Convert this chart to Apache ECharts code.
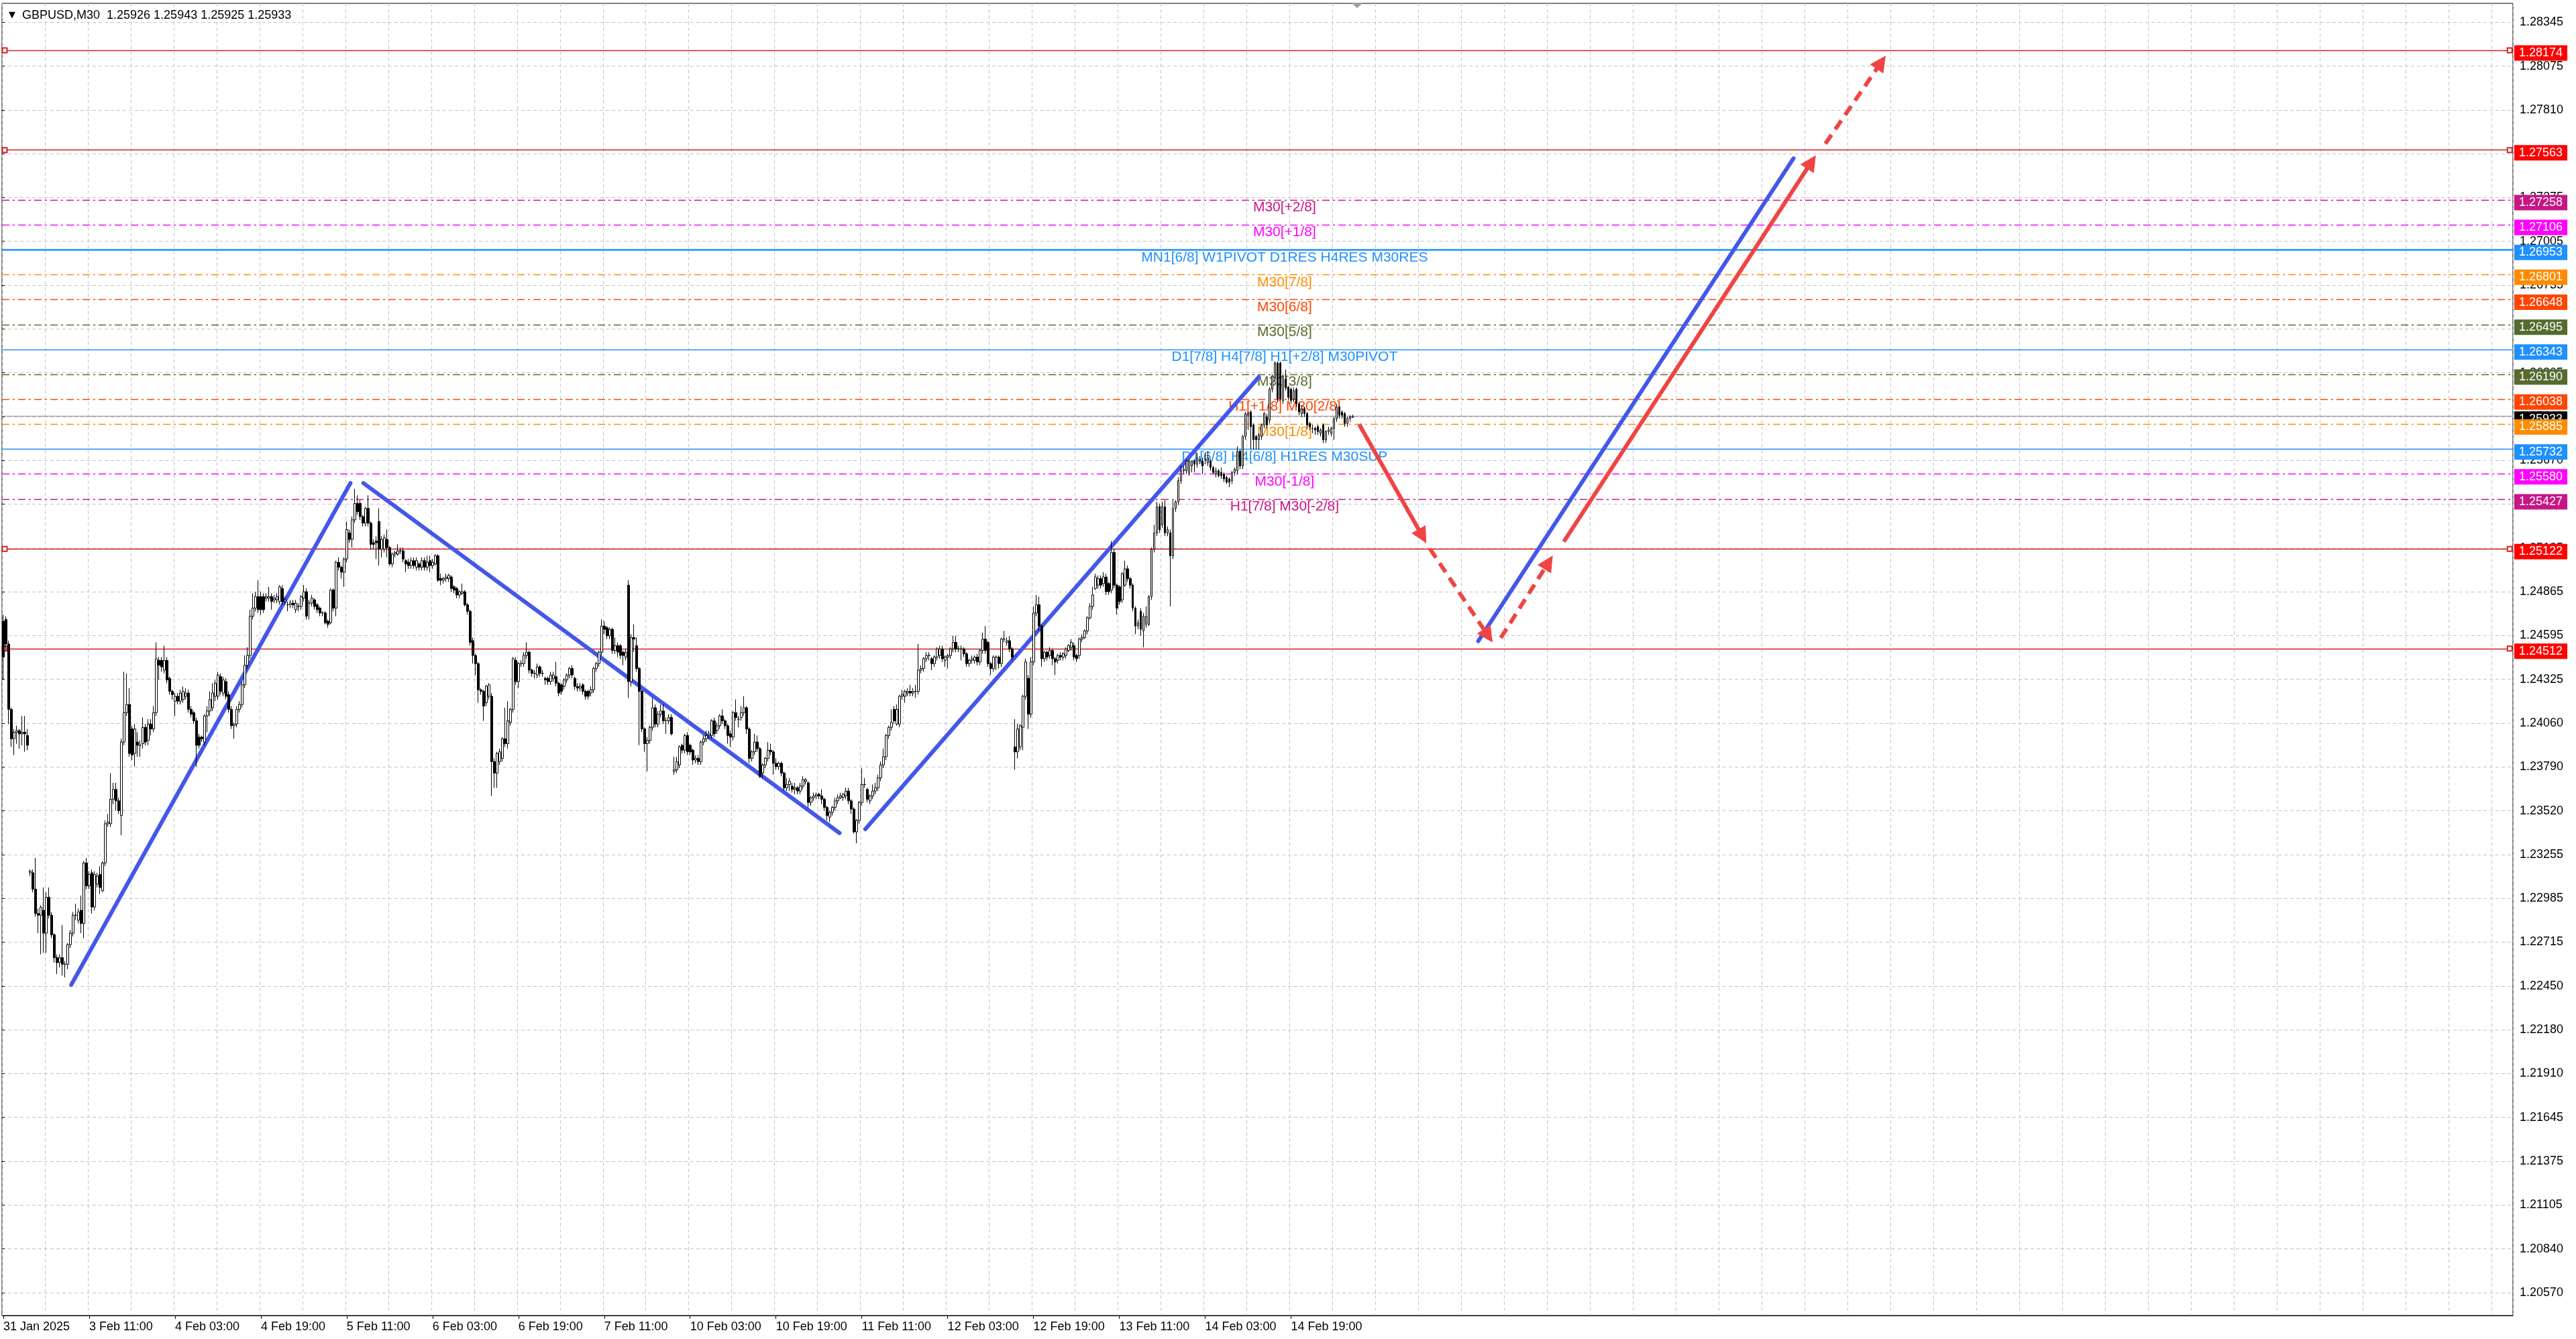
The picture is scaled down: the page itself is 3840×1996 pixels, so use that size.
<!DOCTYPE html>
<html><head><meta charset="utf-8">
<script src="https://cdn.jsdelivr.net/npm/echarts@6/dist/echarts.min.js"></script>
<style>html,body{margin:0;padding:0;background:#fff}#c{width:3840px;height:1996px}</style>
</head><body><div id="c"></div><script>
// ---------- DATA ----------
// each bar: [open, close, low, high]
const seg31Jan = [[1.2468,1.2446,1.2432,1.2472],[1.2469,1.2454,1.2450,1.2471],[1.2454,1.2414,1.2405,1.2456],[1.2414,1.2396,1.2391,1.2415],[1.2396,1.2400,1.2386,1.2402],[1.2400,1.2401,1.2393,1.2404],[1.2401,1.2399,1.2390,1.2402],[1.2399,1.2400,1.2392,1.2410],[1.2400,1.2399,1.2388,1.2410],[1.2398,1.2392,1.2389,1.2402]];
const seg03Feb = [[1.2314,1.2315,1.2312,1.2316],[1.2314,1.2304,1.2302,1.2316],[1.2304,1.2289,1.2287,1.2323],[1.2289,1.2288,1.2277,1.2292],[1.2288,1.2293,1.2264,1.2294],[1.2291,1.2277,1.2265,1.2305],[1.2277,1.2299,1.2265,1.2302],[1.2299,1.2288,1.2286,1.2305],[1.2288,1.2276,1.2274,1.2290],[1.2276,1.2262,1.2259,1.2277],[1.2262,1.2259,1.2252,1.2264],[1.2259,1.2262,1.2256,1.2264],[1.2262,1.2258,1.2251,1.2282],[1.2258,1.2258,1.2250,1.2260],[1.2258,1.2270,1.2255,1.2271],[1.2270,1.2277,1.2268,1.2279],[1.2277,1.2288,1.2275,1.2290],[1.2288,1.2288,1.2285,1.2295],[1.2285,1.2290,1.2283,1.2292],[1.2291,1.2283,1.2277,1.2300],[1.2283,1.2320,1.2274,1.2321],[1.2320,1.2306,1.2304,1.2323],[1.2306,1.2313,1.2304,1.2315],[1.2314,1.2293,1.2289,1.2316],[1.2293,1.2313,1.2291,1.2315],[1.2307,1.2312,1.2305,1.2314],[1.2313,1.2305,1.2301,1.2318],[1.2303,1.2320,1.2302,1.2321],[1.2320,1.2344,1.2318,1.2346],[1.2344,1.2345,1.2342,1.2350],[1.2344,1.2359,1.2342,1.2375],[1.2359,1.2365,1.2356,1.2369],[1.2365,1.2358,1.2352,1.2369],[1.2358,1.2352,1.2350,1.2360],[1.2349,1.2394,1.2337,1.2396],[1.2394,1.2412,1.2392,1.2437],[1.2412,1.2417,1.2410,1.2436],[1.2417,1.2387,1.2385,1.2427],[1.2402,1.2386,1.2383,1.2404],[1.2387,1.2402,1.2379,1.2405],[1.2394,1.2392,1.2385,1.2400],[1.2392,1.2392,1.2385,1.2395],[1.2393,1.2403,1.2390,1.2409],[1.2403,1.2394,1.2392,1.2405],[1.2395,1.2405,1.2392,1.2408],[1.2405,1.2402,1.2398,1.2408],[1.2402,1.2412,1.2400,1.2416],[1.2412,1.2445,1.2410,1.2455]];
const seg04Feb = [[1.2444,1.2441,1.2432,1.2446],[1.2444,1.2440,1.2437,1.2446],[1.2438,1.2444,1.2436,1.2453],[1.2444,1.2432,1.2430,1.2446],[1.2433,1.2425,1.2423,1.2434],[1.2425,1.2423,1.2420,1.2426],[1.2419,1.2422,1.2410,1.2424],[1.2422,1.2419,1.2417,1.2424],[1.2419,1.2424,1.2417,1.2426],[1.2420,1.2425,1.2418,1.2428],[1.2422,1.2424,1.2420,1.2427],[1.2424,1.2414,1.2412,1.2426],[1.2414,1.2411,1.2409,1.2416],[1.2412,1.2407,1.2405,1.2413],[1.2407,1.2392,1.2379,1.2409],[1.2397,1.2392,1.2390,1.2399],[1.2397,1.2396,1.2394,1.2398],[1.2394,1.2410,1.2392,1.2411],[1.2410,1.2413,1.2400,1.2416],[1.2413,1.2420,1.2410,1.2425],[1.2415,1.2424,1.2413,1.2430],[1.2422,1.2430,1.2419,1.2432],[1.2422,1.2435,1.2420,1.2437],[1.2434,1.2425,1.2423,1.2436],[1.2424,1.2432,1.2422,1.2434],[1.2431,1.2422,1.2420,1.2433],[1.2423,1.2414,1.2412,1.2425],[1.2414,1.2404,1.2402,1.2416],[1.2404,1.2405,1.2396,1.2406],[1.2405,1.2414,1.2403,1.2416],[1.2414,1.2417,1.2412,1.2419],[1.2417,1.2429,1.2415,1.2431],[1.2429,1.2441,1.2427,1.2447],[1.2441,1.2447,1.2439,1.2452],[1.2447,1.2471,1.2445,1.2475],[1.2471,1.2476,1.2469,1.2485],[1.2476,1.2483,1.2474,1.2486],[1.2483,1.2475,1.2473,1.2493],[1.2483,1.2475,1.2472,1.2486],[1.2483,1.2475,1.2473,1.2485],[1.2482,1.2483,1.2480,1.2485],[1.2482,1.2483,1.2480,1.2489],[1.2483,1.2480,1.2475,1.2485],[1.2481,1.2482,1.2479,1.2484],[1.2481,1.2483,1.2479,1.2485],[1.2480,1.2489,1.2478,1.2490],[1.2488,1.2480,1.2478,1.2490],[1.2480,1.2481,1.2478,1.2483]];
const seg05Feb = [[1.2478,1.2478,1.2474,1.2480],[1.2478,1.2479,1.2476,1.2481],[1.2479,1.2478,1.2476,1.2481],[1.2475,1.2479,1.2473,1.2481],[1.2477,1.2477,1.2474,1.2479],[1.2477,1.2483,1.2475,1.2484],[1.2482,1.2486,1.2480,1.2490],[1.2486,1.2471,1.2469,1.2488],[1.2479,1.2479,1.2469,1.2481],[1.2479,1.2482,1.2477,1.2484],[1.2481,1.2477,1.2475,1.2482],[1.2478,1.2475,1.2473,1.2479],[1.2476,1.2473,1.2471,1.2477],[1.2473,1.2473,1.2471,1.2474],[1.2473,1.2467,1.2466,1.2474],[1.2468,1.2466,1.2464,1.2469],[1.2467,1.2487,1.2466,1.2488],[1.2487,1.2476,1.2474,1.2488],[1.2476,1.2504,1.2471,1.2505],[1.2504,1.2501,1.2499,1.2507],[1.2501,1.2498,1.2494,1.2502],[1.2498,1.2506,1.2489,1.2507],[1.2506,1.2524,1.2504,1.2529],[1.2522,1.2518,1.2516,1.2524],[1.2518,1.2530,1.2513,1.2532],[1.2530,1.2540,1.2528,1.2549],[1.2540,1.2535,1.2533,1.2545],[1.2540,1.2532,1.2530,1.2542],[1.2532,1.2528,1.2526,1.2533],[1.2528,1.2537,1.2526,1.2538],[1.2537,1.2528,1.2526,1.2545],[1.2528,1.2515,1.2512,1.2529],[1.2516,1.2515,1.2512,1.2518],[1.2517,1.2516,1.2506,1.2520],[1.2529,1.2512,1.2502,1.2537],[1.2512,1.2518,1.2507,1.2520],[1.2512,1.2519,1.2510,1.2521],[1.2518,1.2513,1.2507,1.2524],[1.2513,1.2503,1.2502,1.2514],[1.2503,1.2509,1.2501,1.2510],[1.2509,1.2510,1.2507,1.2511],[1.2509,1.2511,1.2508,1.2515],[1.2511,1.2511,1.2509,1.2513],[1.2511,1.2506,1.2504,1.2513],[1.2505,1.2503,1.2498,1.2506],[1.2504,1.2502,1.2500,1.2506],[1.2502,1.2505,1.2500,1.2507],[1.2505,1.2502,1.2500,1.2507]];
const seg06Feb = [[1.2501,1.2505,1.2499,1.2507],[1.2503,1.2501,1.2499,1.2504],[1.2501,1.2505,1.2499,1.2507],[1.2505,1.2501,1.2499,1.2507],[1.2501,1.2504,1.2499,1.2508],[1.2505,1.2502,1.2498,1.2508],[1.2502,1.2504,1.2500,1.2506],[1.2503,1.2508,1.2502,1.2509],[1.2508,1.2493,1.2492,1.2509],[1.2494,1.2493,1.2490,1.2497],[1.2493,1.2494,1.2491,1.2495],[1.2494,1.2495,1.2492,1.2497],[1.2494,1.2496,1.2492,1.2497],[1.2495,1.2488,1.2486,1.2496],[1.2489,1.2487,1.2485,1.2490],[1.2488,1.2484,1.2482,1.2489],[1.2484,1.2486,1.2482,1.2487],[1.2485,1.2486,1.2484,1.2491],[1.2486,1.2478,1.2477,1.2487],[1.2478,1.2474,1.2472,1.2479],[1.2474,1.2455,1.2453,1.2475],[1.2456,1.2447,1.2442,1.2458],[1.2447,1.2442,1.2435,1.2448],[1.2442,1.2426,1.2418,1.2443],[1.2426,1.2425,1.2423,1.2427],[1.2425,1.2416,1.2407,1.2426],[1.2418,1.2428,1.2416,1.2429],[1.2422,1.2429,1.2420,1.2430],[1.2422,1.2382,1.2361,1.2424],[1.2382,1.2375,1.2366,1.2384],[1.2375,1.2387,1.2366,1.2388],[1.2382,1.2388,1.2380,1.2390],[1.2384,1.2396,1.2382,1.2397],[1.2396,1.2393,1.2391,1.2415],[1.2393,1.2407,1.2390,1.2419],[1.2406,1.2414,1.2404,1.2415],[1.2414,1.2445,1.2412,1.2446],[1.2444,1.2431,1.2429,1.2446],[1.2431,1.2442,1.2427,1.2443],[1.2442,1.2442,1.2440,1.2444],[1.2442,1.2447,1.2440,1.2449],[1.2447,1.2449,1.2445,1.2455],[1.2449,1.2438,1.2436,1.2450],[1.2438,1.2436,1.2434,1.2439],[1.2436,1.2436,1.2433,1.2438],[1.2435,1.2440,1.2433,1.2442],[1.2440,1.2436,1.2434,1.2441],[1.2436,1.2436,1.2434,1.2438]];
const seg07Feb = [[1.2433,1.2432,1.2429,1.2434],[1.2433,1.2431,1.2429,1.2434],[1.2431,1.2435,1.2429,1.2437],[1.2433,1.2435,1.2431,1.2437],[1.2434,1.2430,1.2428,1.2443],[1.2430,1.2424,1.2422,1.2431],[1.2429,1.2425,1.2423,1.2430],[1.2428,1.2432,1.2426,1.2433],[1.2432,1.2435,1.2430,1.2436],[1.2435,1.2439,1.2433,1.2440],[1.2439,1.2435,1.2433,1.2441],[1.2433,1.2428,1.2426,1.2434],[1.2428,1.2427,1.2425,1.2430],[1.2427,1.2428,1.2425,1.2430],[1.2429,1.2425,1.2423,1.2430],[1.2425,1.2422,1.2420,1.2426],[1.2425,1.2422,1.2420,1.2426],[1.2424,1.2426,1.2422,1.2428],[1.2426,1.2439,1.2424,1.2440],[1.2439,1.2442,1.2437,1.2443],[1.2442,1.2449,1.2440,1.2450],[1.2449,1.2465,1.2447,1.2469],[1.2465,1.2463,1.2460,1.2468],[1.2464,1.2459,1.2457,1.2465],[1.2459,1.2463,1.2457,1.2464],[1.2463,1.2450,1.2448,1.2464],[1.2450,1.2453,1.2448,1.2458],[1.2453,1.2449,1.2446,1.2455],[1.2453,1.2447,1.2445,1.2454],[1.2449,1.2447,1.2441,1.2450],[1.2446,1.2449,1.2444,1.2451],[1.2490,1.2431,1.2421,1.2493],[1.2431,1.2458,1.2428,1.2460],[1.2458,1.2457,1.2449,1.2466],[1.2453,1.2439,1.2437,1.2458],[1.2439,1.2425,1.2392,1.2440],[1.2425,1.2402,1.2400,1.2426],[1.2402,1.2393,1.2388,1.2403],[1.2393,1.2395,1.2376,1.2397],[1.2395,1.2403,1.2393,1.2404],[1.2403,1.2415,1.2401,1.2421],[1.2415,1.2405,1.2403,1.2417],[1.2405,1.2411,1.2403,1.2413],[1.2411,1.2413,1.2409,1.2417],[1.2413,1.2407,1.2405,1.2417],[1.2407,1.2407,1.2399,1.2409],[1.2407,1.2409,1.2405,1.2411],[1.2409,1.2399,1.2398,1.2411]];
const seg10Feb = [[1.2376,1.2377,1.2374,1.2385],[1.2377,1.2382,1.2375,1.2385],[1.2380,1.2391,1.2378,1.2392],[1.2392,1.2389,1.2387,1.2393],[1.2389,1.2398,1.2387,1.2399],[1.2398,1.2388,1.2386,1.2400],[1.2392,1.2388,1.2386,1.2393],[1.2389,1.2383,1.2380,1.2390],[1.2383,1.2384,1.2381,1.2386],[1.2384,1.2382,1.2380,1.2386],[1.2382,1.2394,1.2380,1.2395],[1.2394,1.2396,1.2392,1.2398],[1.2396,1.2398,1.2394,1.2401],[1.2398,1.2399,1.2396,1.2401],[1.2398,1.2407,1.2396,1.2408],[1.2407,1.2399,1.2397,1.2409],[1.2401,1.2404,1.2399,1.2406],[1.2404,1.2410,1.2402,1.2411],[1.2410,1.2407,1.2405,1.2414],[1.2407,1.2404,1.2402,1.2408],[1.2404,1.2398,1.2393,1.2405],[1.2399,1.2397,1.2391,1.2401],[1.2397,1.2412,1.2395,1.2413],[1.2412,1.2409,1.2407,1.2420],[1.2408,1.2408,1.2403,1.2410],[1.2409,1.2412,1.2407,1.2416],[1.2412,1.2415,1.2410,1.2422],[1.2415,1.2402,1.2399,1.2416],[1.2402,1.2384,1.2381,1.2403],[1.2384,1.2388,1.2382,1.2389],[1.2388,1.2394,1.2386,1.2399],[1.2394,1.2390,1.2388,1.2398],[1.2390,1.2373,1.2372,1.2391],[1.2375,1.2380,1.2372,1.2381],[1.2380,1.2384,1.2378,1.2385],[1.2384,1.2389,1.2382,1.2394],[1.2389,1.2388,1.2386,1.2393],[1.2388,1.2381,1.2374,1.2389],[1.2381,1.2379,1.2377,1.2384],[1.2379,1.2381,1.2377,1.2382],[1.2381,1.2375,1.2373,1.2382],[1.2375,1.2366,1.2364,1.2376],[1.2366,1.2368,1.2364,1.2372],[1.2368,1.2370,1.2364,1.2372],[1.2367,1.2365,1.2363,1.2369],[1.2365,1.2366,1.2362,1.2369],[1.2366,1.2364,1.2362,1.2367],[1.2364,1.2367,1.2362,1.2369]];
const seg11Feb = [[1.2367,1.2371,1.2365,1.2373],[1.2370,1.2371,1.2368,1.2372],[1.2369,1.2357,1.2354,1.2370],[1.2357,1.2360,1.2355,1.2361],[1.2360,1.2361,1.2358,1.2363],[1.2361,1.2362,1.2359,1.2363],[1.2362,1.2361,1.2359,1.2363],[1.2361,1.2359,1.2356,1.2365],[1.2359,1.2354,1.2352,1.2360],[1.2354,1.2349,1.2346,1.2355],[1.2348,1.2351,1.2345,1.2352],[1.2351,1.2354,1.2349,1.2355],[1.2354,1.2358,1.2352,1.2360],[1.2358,1.2360,1.2356,1.2362],[1.2360,1.2361,1.2359,1.2363],[1.2360,1.2362,1.2358,1.2363],[1.2361,1.2364,1.2359,1.2366],[1.2364,1.2358,1.2356,1.2366],[1.2358,1.2353,1.2350,1.2359],[1.2353,1.2339,1.2338,1.2354],[1.2339,1.2346,1.2332,1.2347],[1.2346,1.2357,1.2344,1.2358],[1.2357,1.2368,1.2355,1.2378],[1.2368,1.2368,1.2366,1.2372],[1.2365,1.2359,1.2357,1.2366],[1.2358,1.2361,1.2356,1.2362],[1.2361,1.2364,1.2359,1.2368],[1.2364,1.2366,1.2362,1.2369],[1.2366,1.2372,1.2364,1.2374],[1.2372,1.2380,1.2370,1.2382],[1.2380,1.2385,1.2378,1.2390],[1.2385,1.2398,1.2383,1.2399],[1.2398,1.2403,1.2396,1.2404],[1.2403,1.2406,1.2401,1.2414],[1.2414,1.2407,1.2405,1.2416],[1.2405,1.2414,1.2404,1.2417],[1.2405,1.2422,1.2403,1.2423],[1.2422,1.2423,1.2420,1.2426],[1.2422,1.2425,1.2418,1.2426],[1.2424,1.2425,1.2422,1.2427],[1.2425,1.2424,1.2422,1.2429],[1.2424,1.2425,1.2422,1.2427],[1.2425,1.2425,1.2421,1.2429],[1.2425,1.2438,1.2423,1.2454],[1.2438,1.2439,1.2436,1.2441],[1.2439,1.2445,1.2437,1.2446],[1.2445,1.2447,1.2443,1.2449],[1.2447,1.2447,1.2444,1.2449]];
const seg12Feb = [[1.2445,1.2442,1.2438,1.2446],[1.2442,1.2446,1.2440,1.2447],[1.2446,1.2451,1.2444,1.2452],[1.2447,1.2451,1.2445,1.2453],[1.2451,1.2445,1.2443,1.2453],[1.2444,1.2446,1.2440,1.2447],[1.2446,1.2447,1.2439,1.2448],[1.2447,1.2451,1.2445,1.2452],[1.2451,1.2455,1.2449,1.2459],[1.2455,1.2451,1.2449,1.2459],[1.2451,1.2451,1.2449,1.2453],[1.2451,1.2451,1.2444,1.2453],[1.2451,1.2448,1.2446,1.2452],[1.2448,1.2442,1.2440,1.2449],[1.2442,1.2444,1.2440,1.2445],[1.2444,1.2445,1.2442,1.2447],[1.2444,1.2446,1.2442,1.2447],[1.2446,1.2443,1.2441,1.2448],[1.2443,1.2450,1.2441,1.2451],[1.2450,1.2457,1.2448,1.2461],[1.2457,1.2450,1.2448,1.2465],[1.2455,1.2442,1.2440,1.2456],[1.2442,1.2439,1.2435,1.2443],[1.2439,1.2446,1.2437,1.2447],[1.2446,1.2446,1.2438,1.2447],[1.2446,1.2442,1.2439,1.2447],[1.2442,1.2457,1.2440,1.2458],[1.2457,1.2457,1.2455,1.2462],[1.2455,1.2456,1.2453,1.2458],[1.2456,1.2451,1.2449,1.2459],[1.2451,1.2446,1.2444,1.2452],[1.2391,1.2388,1.2377,1.2408],[1.2388,1.2402,1.2384,1.2405],[1.2391,1.2404,1.2389,1.2405],[1.2403,1.2422,1.2389,1.2423],[1.2422,1.2443,1.2420,1.2445],[1.2433,1.2411,1.2402,1.2435],[1.2411,1.2443,1.2409,1.2446],[1.2443,1.2473,1.2441,1.2477],[1.2473,1.2478,1.2471,1.2484],[1.2478,1.2465,1.2462,1.2483],[1.2465,1.2445,1.2440,1.2466],[1.2445,1.2449,1.2443,1.2450],[1.2449,1.2446,1.2444,1.2450],[1.2447,1.2450,1.2445,1.2452],[1.2450,1.2445,1.2441,1.2451],[1.2445,1.2443,1.2435,1.2446],[1.2444,1.2447,1.2442,1.2448]];
const seg13Feb = [[1.2447,1.2446,1.2444,1.2449],[1.2446,1.2448,1.2444,1.2449],[1.2447,1.2451,1.2445,1.2452],[1.2450,1.2453,1.2449,1.2454],[1.2452,1.2455,1.2450,1.2457],[1.2453,1.2446,1.2444,1.2455],[1.2447,1.2445,1.2443,1.2448],[1.2447,1.2457,1.2445,1.2458],[1.2457,1.2458,1.2455,1.2460],[1.2458,1.2462,1.2457,1.2463],[1.2462,1.2470,1.2460,1.2471],[1.2470,1.2477,1.2469,1.2479],[1.2477,1.2484,1.2475,1.2489],[1.2488,1.2495,1.2487,1.2497],[1.2490,1.2494,1.2488,1.2496],[1.2494,1.2490,1.2488,1.2496],[1.2491,1.2495,1.2489,1.2498],[1.2495,1.2486,1.2484,1.2497],[1.2491,1.2486,1.2484,1.2492],[1.2487,1.2510,1.2485,1.2517],[1.2510,1.2490,1.2488,1.2512],[1.2490,1.2476,1.2472,1.2491],[1.2489,1.2480,1.2478,1.2490],[1.2481,1.2497,1.2479,1.2498],[1.2490,1.2500,1.2489,1.2505],[1.2500,1.2494,1.2492,1.2502],[1.2494,1.2490,1.2488,1.2495],[1.2490,1.2476,1.2474,1.2491],[1.2476,1.2465,1.2460,1.2477],[1.2465,1.2467,1.2463,1.2469],[1.2474,1.2463,1.2459,1.2476],[1.2462,1.2471,1.2452,1.2473],[1.2466,1.2471,1.2464,1.2477],[1.2466,1.2483,1.2465,1.2484],[1.2483,1.2512,1.2481,1.2513],[1.2512,1.2522,1.2510,1.2527],[1.2522,1.2538,1.2520,1.2541],[1.2538,1.2524,1.2522,1.2540],[1.2527,1.2538,1.2525,1.2541],[1.2538,1.2522,1.2520,1.2542],[1.2522,1.2524,1.2520,1.2526],[1.2522,1.2508,1.2477,1.2524],[1.2508,1.2537,1.2506,1.2542],[1.2537,1.2541,1.2535,1.2542],[1.2541,1.2554,1.2539,1.2556],[1.2554,1.2560,1.2552,1.2563],[1.2560,1.2561,1.2558,1.2563],[1.2560,1.2566,1.2558,1.2567]];
const seg14Feb = [[1.2559,1.2566,1.2557,1.2567],[1.2563,1.2566,1.2559,1.2566],[1.2566,1.2564,1.2559,1.2567],[1.2564,1.2568,1.2562,1.2571],[1.2566,1.2567,1.2564,1.2569],[1.2566,1.2563,1.2558,1.2568],[1.2567,1.2567,1.2564,1.2571],[1.2565,1.2568,1.2563,1.2572],[1.2566,1.2562,1.2560,1.2567],[1.2562,1.2559,1.2558,1.2563],[1.2558,1.2560,1.2556,1.2562],[1.2560,1.2557,1.2556,1.2561],[1.2559,1.2557,1.2555,1.2562],[1.2558,1.2555,1.2553,1.2559],[1.2556,1.2553,1.2552,1.2557],[1.2555,1.2553,1.2550,1.2556],[1.2554,1.2559,1.2552,1.2560],[1.2559,1.2561,1.2557,1.2562],[1.2560,1.2572,1.2558,1.2575],[1.2572,1.2563,1.2561,1.2573],[1.2563,1.2581,1.2561,1.2582],[1.2581,1.2595,1.2579,1.2596],[1.2594,1.2595,1.2585,1.2596],[1.2596,1.2587,1.2573,1.2597],[1.2588,1.2579,1.2573,1.2589],[1.2581,1.2579,1.2573,1.2582],[1.2579,1.2582,1.2573,1.2583],[1.2581,1.2588,1.2579,1.2589],[1.2588,1.2595,1.2586,1.2596],[1.2593,1.2588,1.2586,1.2595],[1.2591,1.2610,1.2589,1.2611],[1.2610,1.2618,1.2608,1.2619],[1.2617,1.2626,1.2615,1.2627],[1.2626,1.2604,1.2602,1.2627],[1.2626,1.2604,1.2603,1.2627],[1.2603,1.2618,1.2601,1.2619],[1.2616,1.2611,1.2609,1.2622],[1.2611,1.2605,1.2603,1.2612],[1.2610,1.2603,1.2601,1.2611],[1.2604,1.2609,1.2602,1.2611],[1.2610,1.2601,1.2599,1.2611],[1.2601,1.2596,1.2594,1.2602],[1.2595,1.2598,1.2593,1.2600],[1.2598,1.2595,1.2593,1.2599],[1.2595,1.2588,1.2586,1.2596],[1.2589,1.2587,1.2585,1.2590],[1.2586,1.2586,1.2583,1.2588],[1.2586,1.2585,1.2582,1.2587],[1.2587,1.2584,1.2582,1.2588],[1.2583,1.2585,1.2581,1.2586],[1.2588,1.2579,1.2577,1.2589],[1.2579,1.2584,1.2577,1.2585],[1.2584,1.2585,1.2582,1.2587],[1.2583,1.2586,1.2581,1.2587],[1.2586,1.2592,1.2579,1.2593],[1.2592,1.2599,1.2590,1.2601],[1.2599,1.2594,1.2592,1.2600],[1.2596,1.2594,1.2592,1.2597],[1.2595,1.2589,1.2587,1.2596],[1.2589,1.2592,1.2587,1.2593],[1.2592,1.2593,1.2590,1.2594],[1.25926,1.25933,1.25925,1.25943]];

const symbolName = 'GBPUSD,M30';
const xTickLabels = ['31 Jan 2025','3 Feb 11:00','4 Feb 03:00','4 Feb 19:00','5 Feb 11:00','6 Feb 03:00','6 Feb 19:00','7 Feb 11:00','10 Feb 03:00','10 Feb 19:00','11 Feb 11:00','12 Feb 03:00','12 Feb 19:00','13 Feb 11:00','14 Feb 03:00','14 Feb 19:00'];
const barsPerTickLabel = 32;
const barsPerGridLine = 16;
const yTickLabels = ['1.20570','1.20840','1.21105','1.21375','1.21645','1.21910','1.22180','1.22450','1.22715','1.22985','1.23255','1.23520','1.23790','1.24060','1.24325','1.24595','1.24865','1.25135','1.25400','1.25670','1.25940','1.26205','1.26470','1.26735','1.27005','1.27275','1.27540','1.27810','1.28075','1.28345'];

// horizontal levels
const levelValues = [1.28174,1.27563,1.27258,1.27106,1.26953,1.26801,1.26648,1.26495,1.26343,1.26190,1.26038,1.25933,1.25885,1.25732,1.25580,1.25427,1.25122,1.24512];
const levelTexts = ['','','M30[+2/8]','M30[+1/8]','MN1[6/8] W1PIVOT D1RES H4RES M30RES','M30[7/8]','M30[6/8]','M30[5/8]','D1[7/8] H4[7/8] H1[+2/8] M30PIVOT','M30[3/8]','H1[+1/8] M30[2/8]','','M30[1/8]','D1[6/8] H4[6/8] H1RES M30SUP','M30[-1/8]','H1[7/8] M30[-2/8]','',''];

// drawn trend segments: [barFrom, priceFrom, barTo, priceTo]
const blueWaves = [[25.3,1.22454,129.4,1.25525],[134.2,1.25525,311.7,1.23383],[321.3,1.23407,468.0,1.26174],[549.8,1.24558,667.3,1.27512]];
const redSolidArrows = [[505.4,1.25885,529.0,1.25200],[581.7,1.25167,674.0,1.27490]];
const redDashedArrows = [[531.8,1.25123,553.5,1.24590],[558.2,1.24577,576.0,1.25040],[679.2,1.27602,700.0,1.28100]];

// ---------- STYLE / LAYOUT ----------
const FONT = 'Liberation Sans, Arial, sans-serif';
const RED_LINE = '#d42020', RED_BOX = '#ff0000';
const MVR = '#c71585', MAG = '#ff00ff', DBLUE = '#1e90ff', DORANGE = '#ff8c00', ORED = '#ff4500', OLIVE = '#556b2f';
const levelColor = [RED_LINE,RED_LINE,MVR,MAG,DBLUE,DORANGE,ORED,OLIVE,DBLUE,OLIVE,ORED,'#a8a8a8',DORANGE,DBLUE,MAG,MVR,RED_LINE,RED_LINE];
const levelBox = [RED_BOX,RED_BOX,MVR,MAG,DBLUE,DORANGE,ORED,OLIVE,DBLUE,OLIVE,ORED,'#000000',DORANGE,DBLUE,MAG,MVR,RED_BOX,RED_BOX];
const levelKind = ['s','s','dd','dd','s','dd','dd','dd','s','dd','dd','s','dd','s','dd','dd','s','s'];
const levelWidth = [1.3,1.3,1.4,1.4,2.6,1.4,1.4,1.4,1.4,1.4,1.4,1.3,1.4,1.4,1.4,1.4,1.3,1.3];
const levelLabelBar = 477.6;
const BLUE = '#4357ea', RED = '#f04444';

const W = 3840, Hc = 1996;
const plotLeft = 3, plotRight = 3746, plotTop = 5, plotBottom = 1961;
const yMin = 1.20430, yMax = 1.28461;
const totalSlots = 936;
const xLeftEdge = -0.5, xRightEdge = totalSlots - 0.5;

const bars = [].concat(seg31Jan, seg03Feb, seg04Feb, seg05Feb, seg06Feb, seg07Feb, seg10Feb, seg11Feb, seg12Feb, seg13Feb, seg14Feb);
const categories = Array.from({length: totalSlots}, (_, i) => String(i));
const last = bars[bars.length - 1];

const plotH = plotBottom - plotTop;
const yPix = p => plotTop + (yMax - p) / (yMax - yMin) * plotH;
const gridBTop = yPix(parseFloat(yTickLabels[yTickLabels.length - 1]));
const gridBBottom = Hc - yPix(parseFloat(yTickLabels[0]));

const isTickBar = i => i % barsPerTickLabel === 0 && i / barsPerTickLabel < xTickLabels.length;
const dashDot = [11, 5, 3, 5];

const redIdx = levelValues.map((v, k) => k).filter(k => levelBox[k] === RED_BOX);

const chart = echarts.init(document.getElementById('c'), null, {renderer: 'canvas'});
chart.setOption({
  animation: false,
  backgroundColor: '#ffffff',
  textStyle: {fontFamily: FONT},
  title: {
    left: 8, top: 9,
    text: '{tri|▼}  ' + symbolName + '  ' + last[0].toFixed(5) + ' ' + last[3].toFixed(5) + ' ' + last[2].toFixed(5) + ' ' + last[1].toFixed(5),
    textStyle: {fontSize: 18, fontWeight: 'normal', color: '#000', fontFamily: FONT, rich: {tri: {fontSize: 13, color: '#000', fontFamily: 'DejaVu Sans'}}}
  },
  graphic: [
    {type: 'polygon', z: 100, shape: {points: [[2014, 4], [2032, 4], [2023, 12]]}, style: {fill: '#a0a0a0'}}
  ],
  grid: [
    {left: plotLeft, right: W - plotRight, top: plotTop, bottom: Hc - plotBottom, show: true, borderColor: '#000', borderWidth: 1, backgroundColor: 'transparent'},
    {left: plotLeft, right: W - plotRight, top: gridBTop, bottom: gridBBottom, show: false}
  ],
  xAxis: [
    {type: 'category', gridIndex: 0, data: categories, boundaryGap: true,
     axisLine: {show: true, lineStyle: {color: '#000', width: 1}},
     axisTick: {show: true, interval: (i) => isTickBar(i), alignWithLabel: true, length: 5, lineStyle: {color: '#000'}},
     axisLabel: {show: true, interval: (i) => isTickBar(i), formatter: (v, i) => xTickLabels[i / barsPerTickLabel] || '', align: 'left', margin: 8, fontSize: 18, color: '#000', fontFamily: FONT},
     splitLine: {show: true, interval: (i) => i % barsPerGridLine === 0, lineStyle: {color: '#c4c4c4', width: 1, type: [5, 4]}}},
    {type: 'value', gridIndex: 0, show: false, min: xLeftEdge, max: xRightEdge, splitLine: {show: false}},
    {type: 'value', gridIndex: 1, show: false, min: 0, max: 1, splitLine: {show: false}}
  ],
  yAxis: [
    {type: 'value', gridIndex: 0, show: false, min: yMin, max: yMax, splitLine: {show: false}},
    {type: 'value', gridIndex: 1, position: 'right', min: 0, max: yTickLabels.length - 1, interval: 1,
     axisLine: {show: false},
     axisTick: {show: true, length: 4, lineStyle: {color: '#000'}},
     axisLabel: {show: true, margin: 10, fontSize: 18, color: '#000', fontFamily: FONT, formatter: (v) => yTickLabels[Math.round(v)] || ''},
     splitLine: {show: true, lineStyle: {color: '#c4c4c4', width: 1, type: [5, 4]}}}
  ],
  series: [
    // horizontal level lines
    {
      type: 'lines', coordinateSystem: 'cartesian2d', xAxisIndex: 1, yAxisIndex: 0, z: 1, silent: true,
      symbol: ['none', 'none'],
      lineStyle: {opacity: 1},
      data: levelValues.map((v, k) => ({
        coords: [[xLeftEdge, v], [xRightEdge, v]],
        lineStyle: {color: levelColor[k], width: levelWidth[k], type: levelKind[k] === 'dd' ? dashDot : 'solid', opacity: 1, curveness: 0}
      }))
    },
    // small hollow squares at both ends of the red horizontal lines
    {
      type: 'scatter', xAxisIndex: 1, yAxisIndex: 0, z: 2, silent: true, clip: false,
      symbol: 'emptyRect', symbolSize: 7,
      itemStyle: {color: RED_LINE, borderColor: RED_LINE, borderWidth: 1.2, opacity: 1},
      data: [].concat(
        redIdx.map(k => [xLeftEdge + 1.0, levelValues[k]]),
        redIdx.map(k => [xRightEdge - 1.2, levelValues[k]])
      )
    },
    // level names
    {
      type: 'scatter', xAxisIndex: 1, yAxisIndex: 0, z: 2, silent: true, symbolSize: 0, clip: false,
      itemStyle: {opacity: 1},
      data: levelTexts.map((t, k) => t ? {name: t, value: [levelLabelBar, levelValues[k]], label: {color: levelColor[k]}} : null).filter(Boolean),
      label: {show: true, opacity: 1, position: 'bottom', distance: 1, formatter: (p) => p.name, fontSize: 21, fontFamily: FONT}
    },
    // price boxes on the right axis
    {
      type: 'scatter', xAxisIndex: 1, yAxisIndex: 0, z: 8, silent: true, symbolSize: 0, clip: false,
      itemStyle: {opacity: 1},
      data: levelValues.map((v, k) => ({
        value: [xRightEdge, v],
        label: {backgroundColor: levelBox[k]}
      })),
      label: {show: true, opacity: 1, position: 'right', distance: 2, offset: [0, 4], formatter: (p) => p.value[1].toFixed(5),
              color: '#ffffff', fontSize: 18, fontFamily: FONT, padding: [3, 7, 2, 7]}
    },
    {
      type: 'lines', coordinateSystem: 'cartesian2d', xAxisIndex: 1, yAxisIndex: 0, z: 3, silent: true,
      symbol: ['none', 'none'],
      lineStyle: {color: BLUE, width: 6, opacity: 1, curveness: 0, cap: 'round'},
      data: blueWaves.map(s => ({coords: [[s[0], s[1]], [s[2], s[3]]]}))
    },
    {
      type: 'lines', coordinateSystem: 'cartesian2d', xAxisIndex: 1, yAxisIndex: 0, z: 3, silent: true,
      symbol: ['none', 'triangle'], symbolSize: 24,
      lineStyle: {color: RED, width: 6, opacity: 1, curveness: 0},
      data: redSolidArrows.map(s => ({coords: [[s[0], s[1]], [s[2], s[3]]]}))
    },
    {
      type: 'lines', coordinateSystem: 'cartesian2d', xAxisIndex: 1, yAxisIndex: 0, z: 3, silent: true,
      symbol: ['none', 'triangle'], symbolSize: 24,
      lineStyle: {color: RED, width: 6, opacity: 1, curveness: 0, type: [16, 10]},
      data: redDashedArrows.map(s => ({coords: [[s[0], s[1]], [s[2], s[3]]]}))
    },
    {
      type: 'candlestick', xAxisIndex: 0, yAxisIndex: 0, z: 5, silent: true,
      barWidth: 3.4,
      data: bars,
      itemStyle: {color: '#ffffff', color0: '#000000', borderColor: '#000000', borderColor0: '#000000', borderWidth: 1}
    }
  ]
});
</script></body></html>
